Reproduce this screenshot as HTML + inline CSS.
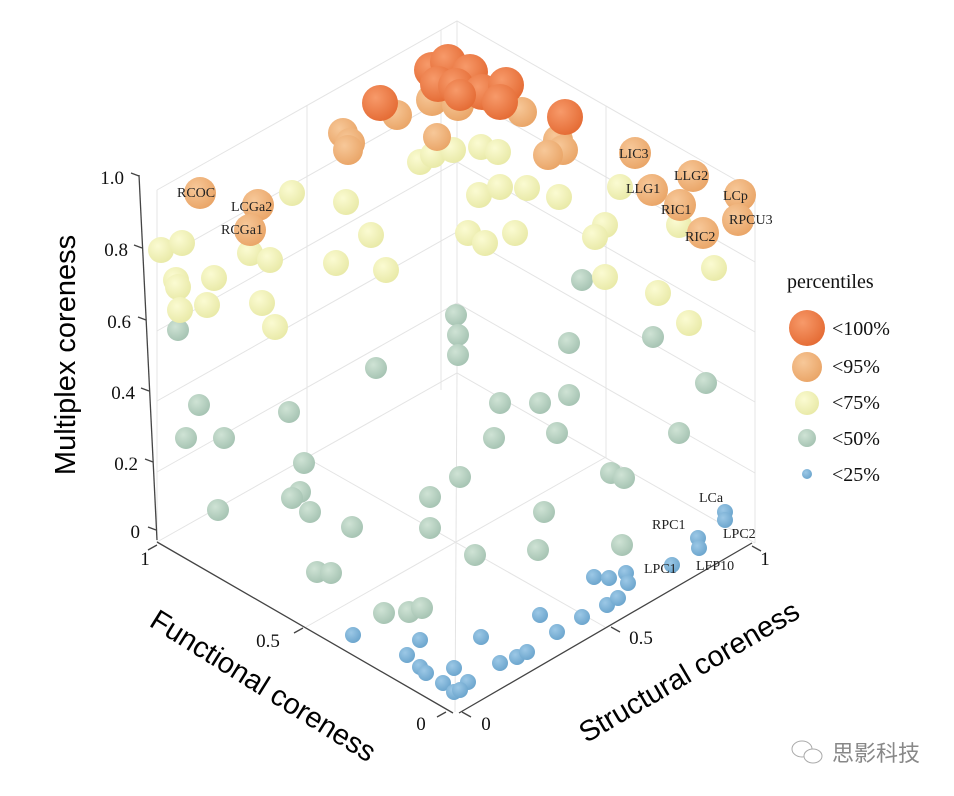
<!DOCTYPE html>
<html><head><meta charset="utf-8"><style>
html,body{margin:0;padding:0;background:#fff;}
svg{display:block;}
.s{font-family:"Liberation Serif",serif;fill:#111;}
.lb{font-family:"Liberation Serif",serif;font-size:14px;fill:#222;}
.t{font-family:"Liberation Sans",sans-serif;font-size:29px;fill:#000;}
</style></head><body>
<svg width="954" height="796" viewBox="0 0 954 796" xmlns="http://www.w3.org/2000/svg">
<defs>
<radialGradient id="gr" cx="38%" cy="35%" r="70%"><stop offset="0" stop-color="#f79a6a"/><stop offset="1" stop-color="#e46a33"/></radialGradient>
<radialGradient id="go" cx="38%" cy="35%" r="70%"><stop offset="0" stop-color="#f7c899"/><stop offset="1" stop-color="#e9a466"/></radialGradient>
<radialGradient id="gy" cx="38%" cy="35%" r="70%"><stop offset="0" stop-color="#fbfbd2"/><stop offset="1" stop-color="#e8e9a6"/></radialGradient>
<radialGradient id="gg" cx="38%" cy="35%" r="70%"><stop offset="0" stop-color="#cfe3d5"/><stop offset="1" stop-color="#a4c2b1"/></radialGradient>
<radialGradient id="gb" cx="38%" cy="35%" r="70%"><stop offset="0" stop-color="#9cc8e6"/><stop offset="1" stop-color="#6aa4cc"/></radialGradient>
</defs>
<g stroke="#e4e4e4" stroke-width="1" fill="none">
<path d="M157 542L457 373L755 543M157 472L457 303L755 473M157 401L457 232L755 402M157 331L457 162L755 332M157 261L457 92L755 262M157 190L457 21L755 191"/>
<path d="M157 542V190M307 457V105M457 373V21M441 390V30M606 458V106M755 543V191"/>
<path d="M605 627L307 458M306 627L606 457M455 712L457 373"/>
</g>
<g stroke="#444" stroke-width="1.3" fill="none">
<path d="M139 175L157 540"/>
<path d="M157 542L453 713M459 713L752 543"/>
<path d="M139 176l-8 -3M142 248l-8 -3M146 320l-8 -3M149 391l-8 -3M153 462l-8 -3M156 530l-8 -3"/>
<path d="M157 545l-9 5M303 628l-9 5M446 712l-9 5M462 712l9 5M611 627l9 5M752 546l9 5"/>
</g>
<g class="s" font-size="19" text-anchor="end">
<text x="124" y="184">1.0</text><text x="128" y="256">0.8</text><text x="131" y="328">0.6</text><text x="135" y="399">0.4</text><text x="138" y="470">0.2</text><text x="140" y="538">0</text>
</g>
<g class="s" font-size="19" text-anchor="middle">
<text x="145" y="565">1</text><text x="268" y="647">0.5</text><text x="421" y="730">0</text>
<text x="486" y="730">0</text><text x="641" y="644">0.5</text><text x="765" y="565">1</text>
</g>
<text class="t" transform="translate(75,355) rotate(-90)" text-anchor="middle">Multiplex coreness</text>
<text class="t" transform="translate(258,694) rotate(32)" text-anchor="middle">Functional coreness</text>
<text class="t" transform="translate(694,680) rotate(-30.5)" text-anchor="middle">Structural coreness</text>
<g fill="url(#gg)">
<circle cx="582" cy="280" r="11"/><circle cx="569" cy="343" r="11"/><circle cx="653" cy="337" r="11"/><circle cx="706" cy="383" r="11"/>
<circle cx="456" cy="315" r="11"/><circle cx="458" cy="335" r="11"/><circle cx="458" cy="355" r="11"/><circle cx="376" cy="368" r="11"/>
<circle cx="178" cy="330" r="11"/><circle cx="199" cy="405" r="11"/><circle cx="186" cy="438" r="11"/><circle cx="224" cy="438" r="11"/><circle cx="289" cy="412" r="11"/>
<circle cx="500" cy="403" r="11"/><circle cx="540" cy="403" r="11"/><circle cx="569" cy="395" r="11"/><circle cx="494" cy="438" r="11"/><circle cx="557" cy="433" r="11"/><circle cx="679" cy="433" r="11"/>
<circle cx="304" cy="463" r="11"/><circle cx="460" cy="477" r="11"/><circle cx="611" cy="473" r="11"/><circle cx="624" cy="478" r="11"/>
<circle cx="300" cy="492" r="11"/><circle cx="292" cy="498" r="11"/><circle cx="310" cy="512" r="11"/><circle cx="218" cy="510" r="11"/>
<circle cx="352" cy="527" r="11"/><circle cx="430" cy="497" r="11"/><circle cx="430" cy="528" r="11"/><circle cx="544" cy="512" r="11"/>
<circle cx="622" cy="545" r="11"/><circle cx="475" cy="555" r="11"/><circle cx="538" cy="550" r="11"/><circle cx="317" cy="572" r="11"/><circle cx="331" cy="573" r="11"/>
<circle cx="384" cy="613" r="11"/><circle cx="409" cy="612" r="11"/><circle cx="422" cy="608" r="11"/>
</g>
<g fill="url(#gy)">
<circle cx="420" cy="162" r="13"/><circle cx="433" cy="155" r="13"/><circle cx="453" cy="150" r="13"/><circle cx="481" cy="147" r="13"/><circle cx="498" cy="152" r="13"/>
<circle cx="292" cy="193" r="13"/><circle cx="346" cy="202" r="13"/><circle cx="479" cy="195" r="13"/><circle cx="500" cy="187" r="13"/><circle cx="527" cy="188" r="13"/><circle cx="559" cy="197" r="13"/>
<circle cx="620" cy="187" r="13"/><circle cx="679" cy="225" r="13"/><circle cx="605" cy="225" r="13"/><circle cx="595" cy="237" r="13"/>
<circle cx="371" cy="235" r="13"/><circle cx="336" cy="263" r="13"/><circle cx="386" cy="270" r="13"/><circle cx="468" cy="233" r="13"/><circle cx="485" cy="243" r="13"/><circle cx="515" cy="233" r="13"/>
<circle cx="161" cy="250" r="13"/><circle cx="182" cy="243" r="13"/><circle cx="176" cy="280" r="13"/><circle cx="178" cy="287" r="13"/><circle cx="214" cy="278" r="13"/><circle cx="207" cy="305" r="13"/><circle cx="180" cy="310" r="13"/>
<circle cx="250" cy="253" r="13"/><circle cx="270" cy="260" r="13"/><circle cx="262" cy="303" r="13"/><circle cx="275" cy="327" r="13"/>
<circle cx="605" cy="277" r="13"/><circle cx="658" cy="293" r="13"/><circle cx="689" cy="323" r="13"/><circle cx="714" cy="268" r="13"/>
</g>
<g fill="url(#go)">
<circle cx="343" cy="133" r="15"/><circle cx="350" cy="143" r="15"/><circle cx="348" cy="150" r="15"/>
<circle cx="437" cy="137" r="14"/>
<circle cx="397" cy="115" r="15"/><circle cx="432" cy="100" r="16"/><circle cx="458" cy="105" r="16"/><circle cx="492" cy="98" r="15"/><circle cx="522" cy="112" r="15"/>
<circle cx="558" cy="140" r="15"/><circle cx="563" cy="150" r="15"/><circle cx="548" cy="155" r="15"/>
<circle cx="200" cy="193" r="16"/><circle cx="258" cy="205" r="16"/><circle cx="250" cy="230" r="16"/>
<circle cx="635" cy="153" r="16"/><circle cx="652" cy="190" r="16"/><circle cx="693" cy="176" r="16"/><circle cx="740" cy="195" r="16"/><circle cx="680" cy="205" r="16"/><circle cx="738" cy="220" r="16"/><circle cx="703" cy="233" r="16"/>
</g>
<g fill="url(#gr)">
<circle cx="432" cy="70" r="18"/><circle cx="448" cy="62" r="18"/><circle cx="470" cy="72" r="18"/><circle cx="438" cy="84" r="18"/><circle cx="456" cy="86" r="18"/>
<circle cx="482" cy="92" r="18"/><circle cx="506" cy="85" r="18"/><circle cx="460" cy="95" r="16"/><circle cx="500" cy="102" r="18"/><circle cx="380" cy="103" r="18"/><circle cx="565" cy="117" r="18"/>
</g>
<g fill="url(#gb)">
<circle cx="353" cy="635" r="8"/><circle cx="420" cy="640" r="8"/><circle cx="481" cy="637" r="8"/><circle cx="540" cy="615" r="8"/><circle cx="582" cy="617" r="8"/><circle cx="557" cy="632" r="8"/>
<circle cx="407" cy="655" r="8"/><circle cx="420" cy="667" r="8"/><circle cx="426" cy="673" r="8"/><circle cx="454" cy="668" r="8"/><circle cx="443" cy="683" r="8"/><circle cx="468" cy="682" r="8"/><circle cx="454" cy="692" r="8"/><circle cx="460" cy="690" r="8"/>
<circle cx="500" cy="663" r="8"/><circle cx="517" cy="657" r="8"/><circle cx="527" cy="652" r="8"/>
<circle cx="594" cy="577" r="8"/><circle cx="609" cy="578" r="8"/><circle cx="626" cy="573" r="8"/><circle cx="628" cy="583" r="8"/><circle cx="607" cy="605" r="8"/><circle cx="618" cy="598" r="8"/>
<circle cx="672" cy="565" r="8"/><circle cx="698" cy="538" r="8"/><circle cx="699" cy="548" r="8"/><circle cx="725" cy="512" r="8"/><circle cx="725" cy="520" r="8"/>
</g>
<g class="lb">
<text x="177" y="197">RCOC</text><text x="231" y="211">LCGa2</text><text x="221" y="234">RCGa1</text>
<text x="619" y="158">LIC3</text><text x="626" y="193">LLG1</text><text x="674" y="180">LLG2</text><text x="723" y="200">LCp</text><text x="661" y="214">RIC1</text><text x="729" y="224">RPCU3</text><text x="685" y="241">RIC2</text>
<text x="699" y="502">LCa</text><text x="652" y="529">RPC1</text><text x="723" y="538">LPC2</text><text x="644" y="573">LPC1</text><text x="696" y="570">LFP10</text>
</g>
<text class="s" x="787" y="288" font-size="20">percentiles</text>
<circle cx="807" cy="328" r="18" fill="url(#gr)"/><circle cx="807" cy="367" r="15" fill="url(#go)"/><circle cx="807" cy="403" r="12" fill="url(#gy)"/><circle cx="807" cy="438" r="9" fill="url(#gg)"/><circle cx="807" cy="474" r="5" fill="url(#gb)"/>
<g class="s" font-size="20"><text x="832" y="335">&lt;100%</text><text x="832" y="373">&lt;95%</text><text x="832" y="409">&lt;75%</text><text x="832" y="445">&lt;50%</text><text x="832" y="481">&lt;25%</text></g>
<g fill="#fff" stroke="#aaa" stroke-width="1"><ellipse cx="802" cy="749" rx="10" ry="8"/><ellipse cx="813" cy="756" rx="9" ry="7"/></g>
<text x="832" y="761" font-family="Liberation Sans,'Noto Sans CJK SC',sans-serif" font-size="22" fill="#888">思影科技</text>
</svg>
</body></html>
